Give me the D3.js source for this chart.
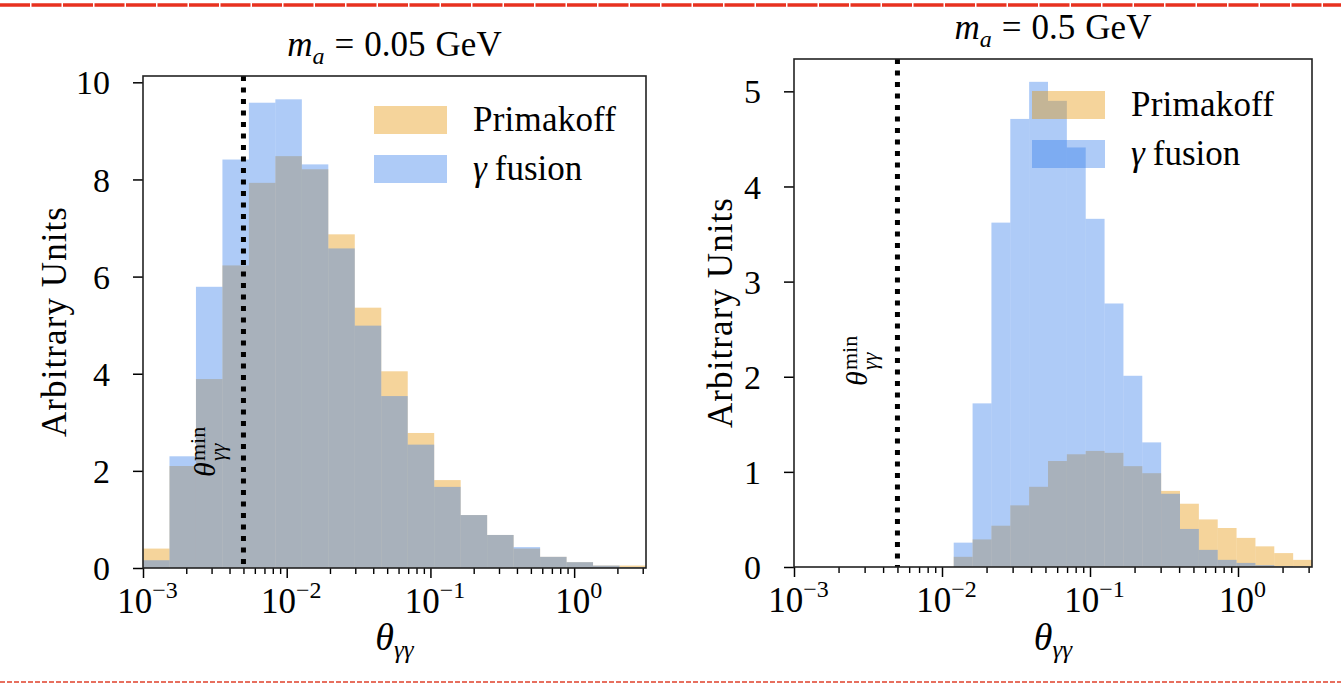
<!DOCTYPE html>
<html>
<head>
<meta charset="utf-8">
<script src="https://cdn.jsdelivr.net/npm/d3@7"></script>
<style>
  body { margin: 0; background: #fff; }
  svg text, svg tspan { font-family: 'Liberation Serif', 'Times New Roman', serif; fill: #000; }
</style>
</head>
<body>
<svg id="fig" width="1341" height="686" font-family="Liberation Serif"></svg>
<script>
/* global d3 */
// histogram heights, 19 log bins per panel
const primakoff005 = [0.40, 2.10, 3.89, 6.23, 7.93, 8.48, 8.21, 6.87, 5.36, 4.05, 2.78, 1.81, 1.09, 0.68, 0.40, 0.23, 0.12, 0.05, 0.05]
const fusion005 = [0.16, 2.30, 5.79, 8.41, 9.58, 9.65, 8.31, 6.58, 4.99, 3.54, 2.54, 1.67, 1.09, 0.68, 0.43, 0.23, 0.12, 0.05, 0.02]
const primakoff05 = [0.107, 0.29, 0.434, 0.648, 0.843, 1.114, 1.185, 1.22, 1.20, 1.06, 0.986, 0.80, 0.665, 0.50, 0.41, 0.306, 0.217, 0.146, 0.075]
const fusion05 = [0.256, 1.72, 3.62, 4.71, 5.10, 4.90, 4.41, 3.66, 2.77, 2.01, 1.31, 0.77, 0.40, 0.18, 0.075, 0.043, 0.02, 0.01, 0.005]
const binLow005 = 1e-3
const binLow05 = 0.012
const thetaMax = Math.pow(10, 0.5)
const thetaMin = 5e-3
const xMajor = [1e-3, 1e-2, 1e-1, 1]
const xMajorExp = ['\u22123', '\u22122', '\u22121', '0']
const yTicks005 = [0, 2, 4, 6, 8, 10]
const yTicks05 = [0, 1, 2, 3, 4, 5]
const legendNames = ['Primakoff', 'fusion']
const titleMass = ['0.05', '0.5']

const colPri = '#e69405'
const colFus = '#347deb'
const alpha = 0.4
const serif = "'Liberation Serif', 'Times New Roman', serif"

const svg = d3.select('#fig')

// red marker lines at the top and bottom of the picture
svg.append('line').attr('x1', 0).attr('x2', 1341).attr('y1', 5).attr('y2', 5)
  .attr('stroke', '#e8321f').attr('stroke-width', 3.5).attr('stroke-dasharray', '30,1.5')
svg.append('line').attr('x1', 0).attr('x2', 1341).attr('y1', 682).attr('y2', 682)
  .attr('stroke', '#e0402a').attr('stroke-width', 1.5).attr('stroke-dasharray', '5,2')

let logEdges = function (lo, hi, n) {
  const a = Math.log10(lo)
  const b = Math.log10(hi)
  return d3.range(n + 1).map(i => Math.pow(10, a + (b - a) * i / n))
}

let drawPanel = function (p) {
  const g = svg.append('g')
  const x = d3.scaleLog().domain([1e-3, thetaMax]).range([p.left, p.right])
  const y = d3.scaleLinear().domain([0, p.ymax]).range([p.bottom, p.top])
  const edges = logEdges(p.binLow, thetaMax, p.pri.length)
  const bins = p.pri.map((v, i) => ({ x0: edges[i], x1: edges[i + 1], pri: v, fus: p.fus[i] }))

  g.append('g').selectAll('rect').data(bins).enter().append('rect')
    .attr('x', d => x(d.x0)).attr('width', d => x(d.x1) - x(d.x0))
    .attr('y', d => y(d.pri)).attr('height', d => y(0) - y(d.pri))
    .attr('fill', colPri).attr('fill-opacity', alpha)
  g.append('g').selectAll('rect').data(bins).enter().append('rect')
    .attr('x', d => x(d.x0)).attr('width', d => x(d.x1) - x(d.x0))
    .attr('y', d => y(d.fus)).attr('height', d => y(0) - y(d.fus))
    .attr('fill', colFus).attr('fill-opacity', alpha)

  // theta min line
  g.append('line')
    .attr('x1', x(thetaMin)).attr('x2', x(thetaMin))
    .attr('y1', p.top).attr('y2', p.bottom)
    .attr('stroke', '#000').attr('stroke-width', 5).attr('stroke-dasharray', '5,6.5')

  // theta min label, rotated
  const lab = g.append('g')
    .attr('transform', `translate(${x(thetaMin) - p.labDx},${p.labY}) rotate(-90)`)
  lab.append('text').attr('x', 0).attr('y', 0).style('font-family', serif)
    .style('font-style', 'italic').style('font-size', '30px').text('\u03b8')
  lab.append('text').attr('x', 16).attr('y', -10).style('font-family', serif)
    .style('font-size', '22px').text('min')
  lab.append('text').attr('x', 16).attr('y', 10).style('font-family', serif)
    .style('font-style', 'italic').style('font-size', '22px').text('\u03b3\u03b3')

  // minor x ticks
  let minor = []
  for (let e = -3; e <= 0; e++) {
    for (let k = 2; k <= 9; k++) {
      const v = k * Math.pow(10, e)
      if (v <= thetaMax) minor.push(v)
    }
  }
  g.append('g').attr('transform', `translate(0,${p.bottom})`)
    .call(d3.axisBottom(x).tickValues(minor).tickFormat('').tickSize(6).tickSizeOuter(0))
    .call(s => s.select('.domain').remove())
    .selectAll('line').attr('stroke', '#000').attr('stroke-width', 1.4)
  const xAxisG = g.append('g').attr('transform', `translate(0,${p.bottom})`)
    .call(d3.axisBottom(x).tickValues(xMajor).tickFormat('').tickSize(10).tickSizeOuter(0))
  xAxisG.attr('font-family', serif)
  xAxisG.select('.domain').remove()
  xAxisG.selectAll('line').attr('stroke', '#000').attr('stroke-width', 1.5)
  xAxisG.selectAll('.tick text').remove()
  xAxisG.selectAll('.tick').each(function (d, i) {
    const t = d3.select(this).append('text')
      .attr('y', 45).attr('dx', 4).attr('text-anchor', 'middle')
      .style('font-family', serif).style('font-size', '35px').attr('fill', '#000')
    t.append('tspan').text('10')
    t.append('tspan').attr('dy', -15).style('font-size', '24px').text(xMajorExp[i])
  })

  const yAxisG = g.append('g').attr('transform', `translate(${p.left},0)`)
    .call(d3.axisLeft(y).tickValues(p.yTicks).tickFormat(d3.format('d'))
      .tickSize(10).tickPadding(23).tickSizeOuter(0))
  yAxisG.attr('font-family', serif)
  yAxisG.select('.domain').remove()
  yAxisG.selectAll('line').attr('stroke', '#000').attr('stroke-width', 1.5)
  yAxisG.selectAll('text').style('font-size', '34px').attr('dy', '0.34em')
    .style('font-family', serif).attr('fill', '#000')

  // frame
  g.append('rect')
    .attr('x', p.left).attr('y', p.top)
    .attr('width', p.right - p.left).attr('height', p.bottom - p.top)
    .attr('fill', 'none').attr('stroke', '#222').attr('stroke-width', 1.6)

  // legend
  const lg = g.append('g')
  const cols = [colPri, colFus]
  cols.forEach((c, i) => {
    lg.append('rect')
      .attr('x', p.legX).attr('y', p.legY + i * 49)
      .attr('width', 73).attr('height', 28)
      .attr('fill', c).attr('fill-opacity', alpha)
    const t = lg.append('text')
      .attr('x', p.legX + 99).attr('y', p.legY + 25 + i * 49)
      .style('font-family', serif).style('font-size', '35px')
    if (i === 1) {
      t.append('tspan').style('font-style', 'italic').text('\u03b3')
      t.append('tspan').attr('dx', 8).text(legendNames[i])
    } else {
      t.attr('textLength', 143).attr('lengthAdjust', 'spacing').text(legendNames[i])
    }
  })

  // title
  const cx = (p.left + p.right) / 2
  const tt = g.append('text').attr('x', cx).attr('y', p.top - 20)
    .attr('text-anchor', 'middle').style('font-family', serif).style('font-size', '35px')
  tt.append('tspan').style('font-style', 'italic').text('m')
  tt.append('tspan').attr('dy', 8).style('font-style', 'italic').style('font-size', '24px').text('a')
  tt.append('tspan').attr('dy', -8).attr('dx', 10).text('=')
  tt.append('tspan').attr('dx', 10).text(p.mass)
  tt.append('tspan').attr('dx', 10).text('GeV')

  // x label
  const xl = g.append('text').attr('x', cx).attr('y', 650)
    .attr('text-anchor', 'middle').style('font-family', serif)
    .style('font-style', 'italic').style('font-size', '38px')
  xl.append('tspan').text('\u03b8')
  xl.append('tspan').attr('dy', 8).style('font-size', '25px').text('\u03b3\u03b3')

  // y label
  g.append('text')
    .attr('transform', `translate(${p.ylabX},${(p.top + p.bottom) / 2}) rotate(-90)`)
    .attr('text-anchor', 'middle').style('font-family', serif).style('font-size', '35px')
    .attr('textLength', 230).attr('lengthAdjust', 'spacing')
    .text('Arbitrary Units')
}

drawPanel({
  left: 143, right: 646, top: 76, bottom: 568, ymax: 10.13,
  pri: primakoff005, fus: fusion005, binLow: binLow005, yTicks: yTicks005,
  legX: 374, legY: 106, mass: titleMass[0], ylabX: 66, labDx: 28, labY: 477
})
drawPanel({
  left: 794, right: 1312, top: 59, bottom: 567, ymax: 5.34,
  pri: primakoff05, fus: fusion05, binLow: binLow05, yTicks: yTicks05,
  legX: 1032, legY: 91, mass: titleMass[1], ylabX: 732, labDx: 30, labY: 386
})
</script>
</body>
</html>
